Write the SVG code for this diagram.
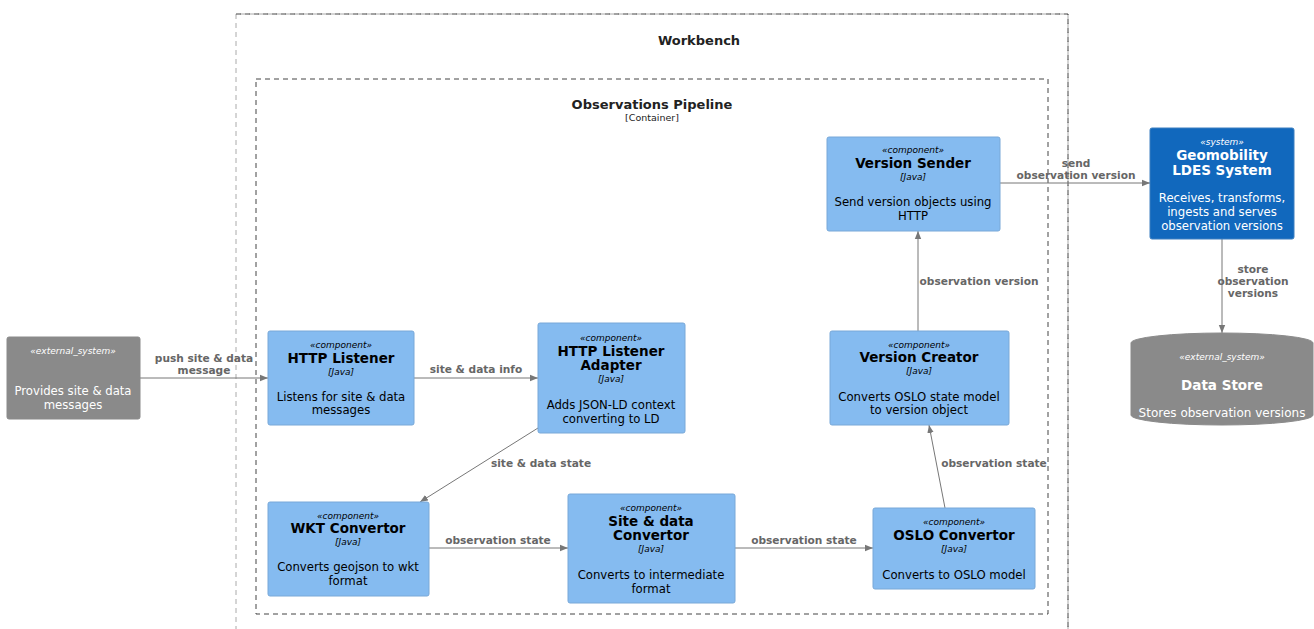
<svg xmlns="http://www.w3.org/2000/svg" width="1314" height="629" viewBox="0 0 1314 629">
<style>
text{font-family:"DejaVu Sans","Liberation Sans",sans-serif;text-anchor:middle}
.comp{fill:#85bbf0;stroke:#78a8d8;stroke-width:1}
.sys{fill:#1168bd;stroke:#3c7fc0;stroke-width:1}
.ext{fill:#8a8a8a;stroke:#8a8a8a;stroke-width:1}
.st{font-size:9px;font-style:italic}
.ti{font-size:13.5px;font-weight:bold}
.te{font-size:9px;font-style:italic}
.de{font-size:11.7px}
.dk{fill:#000}
.wh{fill:#fff}
.lbl{font-size:10.6px;font-weight:bold;fill:#666}
.edge{stroke:#777;stroke-width:1;fill:none;marker-end:url(#arr)}
.bound{fill:none;stroke:#444;stroke-width:1;stroke-dasharray:5 4}
.bound2{fill:none;stroke:#aaa;stroke-width:1;stroke-dasharray:5 4}
.btitle{font-size:13px;font-weight:bold;fill:#222}
</style>
<defs>
<marker id="arr" viewBox="0 0 10 10" refX="10" refY="5" markerWidth="8" markerHeight="8" markerUnits="userSpaceOnUse" orient="auto">
<path d="M0,1 L10,5 L0,9 z" fill="#777"/>
</marker>
</defs>
<rect width="1314" height="629" fill="#fff"/>
<g id="workbench">
<path class="bound2" d="M236,640 L236,14 L1068,14 L1068,640"/>
<path class="bound" d="M236,14 L1068,14 L1068,640"/>
<text class="btitle" x="699" y="45">Workbench</text>
</g>
<g id="pipeline">
<rect class="bound" x="256" y="79" width="792" height="535"/>
<text class="btitle" x="652" y="109">Observations Pipeline</text>
<text x="652" y="121" style="font-size:9.5px;fill:#222">[Container]</text>
</g>
<g id="connectors">
<line class="edge" x1="140" y1="378" x2="268" y2="378"/>
<text class="lbl" x="204" y="362">push site &amp; data</text>
<text class="lbl" x="204" y="374">message</text>
<line class="edge" x1="414" y1="378" x2="538" y2="378"/>
<text class="lbl" x="476" y="373">site &amp; data info</text>
<line class="edge" x1="538" y1="428" x2="420" y2="502"/>
<text class="lbl" x="541" y="467">site &amp; data state</text>
<line class="edge" x1="429" y1="548" x2="568" y2="548"/>
<text class="lbl" x="498" y="544">observation state</text>
<line class="edge" x1="735" y1="548" x2="873" y2="548"/>
<text class="lbl" x="804" y="544">observation state</text>
<line class="edge" x1="945" y1="508" x2="929" y2="425"/>
<text class="lbl" x="994" y="467">observation state</text>
<line class="edge" x1="918" y1="331" x2="918" y2="231"/>
<text class="lbl" x="979" y="285">observation version</text>
<line class="edge" x1="1000" y1="183" x2="1150" y2="183"/>
<text class="lbl" x="1076" y="167">send</text>
<text class="lbl" x="1076" y="179">observation version</text>
<line class="edge" x1="1222" y1="239" x2="1222" y2="333"/>
<text class="lbl" x="1253" y="273">store</text>
<text class="lbl" x="1253" y="285">observation</text>
<text class="lbl" x="1253" y="297">versions</text>
</g>
<g id="ext_source">
<rect class="ext" x="7" y="337" width="133" height="82" rx="2"/>
<text class="st wh" x="73" y="354">«external_system»</text>
<text class="de wh" x="73" y="395">Provides site &amp; data</text>
<text class="de wh" x="73" y="409">messages</text>
</g>
<g id="http_listener">
<rect class="comp" x="268" y="331" width="146" height="94" rx="2"/>
<text class="st dk" x="341" y="348">«component»</text>
<text class="ti dk" x="341" y="363">HTTP Listener</text>
<text class="te dk" x="341" y="375">[Java]</text>
<text class="de dk" x="341" y="401">Listens for site &amp; data</text>
<text class="de dk" x="341" y="414">messages</text>
</g>
<g id="http_listener_adapter">
<rect class="comp" x="538" y="323" width="147" height="110" rx="2"/>
<text class="st dk" x="611" y="341">«component»</text>
<text class="ti dk" x="611" y="356">HTTP Listener</text>
<text class="ti dk" x="611" y="370">Adapter</text>
<text class="te dk" x="611" y="382">[Java]</text>
<text class="de dk" x="611" y="409">Adds JSON-LD context</text>
<text class="de dk" x="611" y="423">converting to LD</text>
</g>
<g id="wkt_convertor">
<rect class="comp" x="268" y="502" width="161" height="94" rx="2"/>
<text class="st dk" x="348" y="519">«component»</text>
<text class="ti dk" x="348" y="533">WKT Convertor</text>
<text class="te dk" x="348" y="545">[Java]</text>
<text class="de dk" x="348" y="571">Converts geojson to wkt</text>
<text class="de dk" x="348" y="585">format</text>
</g>
<g id="site_data_convertor">
<rect class="comp" x="568" y="494" width="167" height="109" rx="2"/>
<text class="st dk" x="651" y="511">«component»</text>
<text class="ti dk" x="651" y="526">Site &amp; data</text>
<text class="ti dk" x="651" y="540">Convertor</text>
<text class="te dk" x="651" y="552">[Java]</text>
<text class="de dk" x="651" y="579">Converts to intermediate</text>
<text class="de dk" x="651" y="593">format</text>
</g>
<g id="oslo_convertor">
<rect class="comp" x="873" y="508" width="162" height="81" rx="2"/>
<text class="st dk" x="954" y="525">«component»</text>
<text class="ti dk" x="954" y="540">OSLO Convertor</text>
<text class="te dk" x="954" y="552">[Java]</text>
<text class="de dk" x="954" y="579">Converts to OSLO model</text>
</g>
<g id="version_creator">
<rect class="comp" x="830" y="331" width="179" height="94" rx="2"/>
<text class="st dk" x="919" y="348">«component»</text>
<text class="ti dk" x="919" y="362">Version Creator</text>
<text class="te dk" x="919" y="374">[Java]</text>
<text class="de dk" x="919" y="401">Converts OSLO state model</text>
<text class="de dk" x="919" y="414">to version object</text>
</g>
<g id="version_sender">
<rect class="comp" x="827" y="137" width="173" height="94" rx="2"/>
<text class="st dk" x="913" y="153">«component»</text>
<text class="ti dk" x="913" y="168">Version Sender</text>
<text class="te dk" x="913" y="180">[Java]</text>
<text class="de dk" x="913" y="206">Send version objects using</text>
<text class="de dk" x="913" y="220">HTTP</text>
</g>
<g id="geomobility">
<rect class="sys" x="1150" y="128" width="144" height="111" rx="2"/>
<text class="st wh" x="1222" y="145">«system»</text>
<text class="ti wh" x="1222" y="160">Geomobility</text>
<text class="ti wh" x="1222" y="175">LDES System</text>
<text class="de wh" x="1222" y="202">Receives, transforms,</text>
<text class="de wh" x="1222" y="216">ingests and serves</text>
<text class="de wh" x="1222" y="230">observation versions</text>
</g>
<g id="data_store">
<path class="ext" d="M1131,343 A91,10 0 0 1 1313,343 L1313,415 A91,10 0 0 1 1131,415 Z"/>
<text class="st wh" x="1222" y="360">«external_system»</text>
<text class="ti wh" x="1222" y="390">Data Store</text>
<text x="1222" y="417" style="font-size:12px;fill:#fff">Stores observation versions</text>
</g>
</svg>
